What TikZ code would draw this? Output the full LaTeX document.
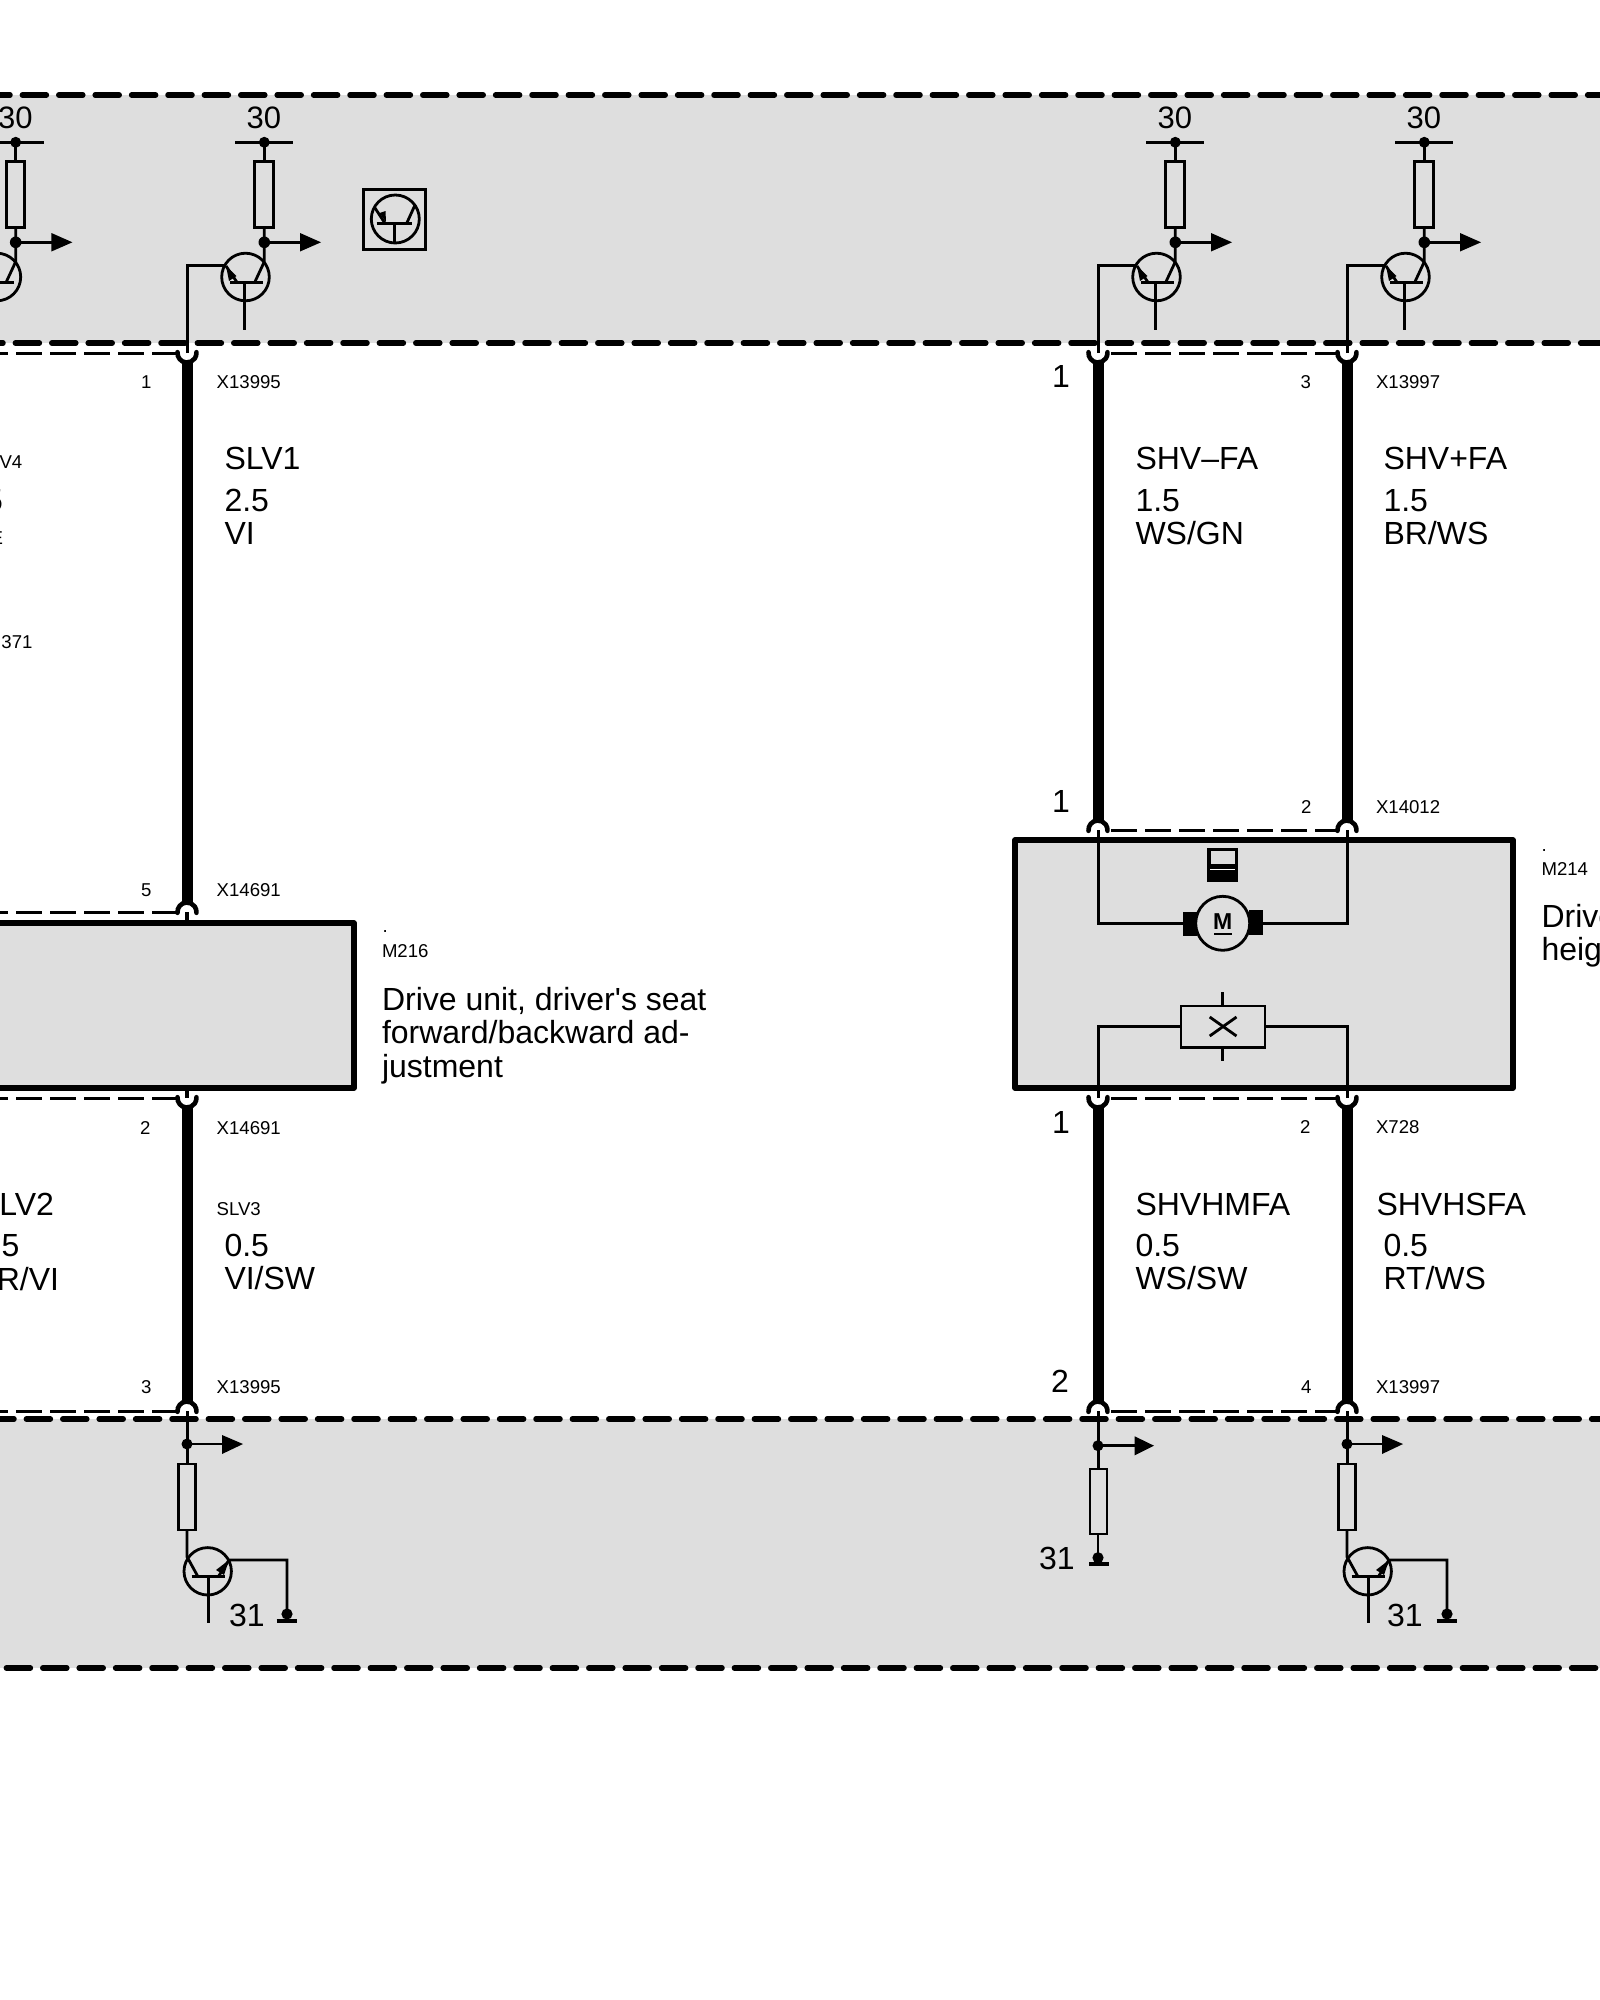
\documentclass[tikz,border=0pt]{standalone}
\usepackage{fontspec}
\setmainfont{Liberation Sans}
\usetikzlibrary{calc}
\definecolor{bandgrey}{HTML}{DEDEDE}
\tikzset{
  every node/.style={inner sep=0pt,outer sep=0pt},
  big/.style={anchor=base west,font=\fontsize{32}{32}\selectfont},
  small/.style={anchor=base west,font=\fontsize{18.6}{18.6}\selectfont},
  bigE/.style={anchor=base east,font=\fontsize{32}{32}\selectfont},
  smallE/.style={anchor=base east,font=\fontsize{18.6}{18.6}\selectfont},
  thin wire/.style={draw=black,line width=3pt,line join=miter},
  fine/.style={draw=black,line width=2.8pt},
  harness/.style={draw=black,line width=11pt},
  socket/.style={draw=black,line width=4.6pt,line cap=round},
  bandline/.style={draw=black,line width=5.5pt,line cap=round,dash pattern=on 24pt off 12.4pt},
  screen/.style={draw=black,line width=3pt,dash pattern=on 26pt off 8pt},
  module/.style={draw=black,fill=bandgrey,line width=5.5pt,line join=round},
}
% upper socket (cap) and lower socket (cup)
\newcommand{\capat}[1]{\draw[socket] ($(#1)+(-9.5,0.8)$) arc[start angle=185,end angle=-5,radius=9.5pt];}
\newcommand{\cupat}[1]{\draw[socket] ($(#1)+(-9.5,-0.8)$) arc[start angle=175,end angle=365,radius=9.5pt];}
% high-side driver in the top band, origin on the wire axis
\newcommand{\topdriver}[2]{%
\begin{scope}[shift={(#1,0)}]
  \node[big,font=\fontsize{31}{31}\selectfont] (thirty#2) at (59.7,128) {30};
  \draw[fine] (48,142.3) -- (106,142.3);
  \fill (77.3,142.3) circle (5.5pt);
  \draw[fine] (77.3,142.3) -- (77.3,161.7);
  \draw[fine] (67.7,161.7) rectangle (86.3,227.3);
  \draw[fine] (77.3,227.3) -- (77.3,261.7) -- (68,281.7);
  \fill (77.3,242.3) circle (5.8pt);
  \draw[fine] (77.3,242.3) -- (114,242.3);
  \fill (113,233) -- (134,242.3) -- (113,251.5) -- cycle;
  \draw[fine] (58.5,277) circle (23.8pt);
  \draw[fine] (43,282.3) -- (75.7,282.3);
  \draw[fine] (57.7,282.3) -- (57.7,330);
  \draw[fine] (50,282.3) -- (39,266);
  \fill (39,266) -- (49.5,276) -- (42,281) -- cycle;
\end{scope}}
% low-side driver in the bottom band, origin on the wire axis
\newcommand{\botdriver}[3]{%
\begin{scope}[shift={(#1,0)}]
  \fill (0,1444) circle (5.5pt);
  \draw[fine] (0,1444) -- (36,1444);
  \fill (35,1435) -- (56,1444) -- (35,1454) -- cycle;
  \draw[fine] (-8.5,1464) rectangle (8.5,1530);
  \draw[fine] (0,1530) -- (0,1556.7) -- (11,1576.7);
  \draw[fine] (20.7,1571.3) circle (23.7pt);
  \draw[fine] (4.7,1576.7) -- (38,1576.7);
  \draw[fine] (21.3,1576.7) -- (21.3,1622.7);
  \draw[fine] (31.3,1576.7) -- (42,1560) -- (100,1560) -- (100,1614);
  \fill (42,1560) -- (37,1575) -- (29,1570) -- cycle;
  \fill (100,1614) circle (5.6pt);
  \draw[fine,line width=3.4pt] (89.5,1621) -- (110,1621);
  \node[big] (thirtyone#2) at (#3,1626) {31};
\end{scope}}
\begin{document}
\begin{tikzpicture}[x=1pt,y=-1pt]
\useasboundingbox (0,0) rectangle (1600,2000);
\clip (0,0) rectangle (1600,2000);
\fill[white] (0,0) rectangle (1600,2000);
% bands
\fill[bandgrey] (0,95) rectangle (1600,343);
\fill[bandgrey] (0,1419) rectangle (1600,1668);
\draw[bandline,dash phase=14] (0,95) -- (1600,95);
\draw[bandline,dash phase=21] (0,343) -- (1600,343);
\draw[bandline,dash phase=10] (0,1419) -- (1600,1419);
\draw[bandline,dash phase=30] (0,1668) -- (1600,1668);

% terminals
\coordinate (aT) at (187,353);
\coordinate (aM) at (187,912);
\coordinate (aN) at (187,1098);
\coordinate (aB) at (187,1411);
\coordinate (bT) at (1098,353);
\coordinate (bM) at (1098,830);
\coordinate (bN) at (1098,1098);
\coordinate (bB) at (1098,1411);
\coordinate (cT) at (1347,353);
\coordinate (cM) at (1347,830);
\coordinate (cN) at (1347,1098);
\coordinate (cB) at (1347,1411);

% modules
\draw[module] (-20,923) rectangle (354,1088);
\draw[module] (1015,840) rectangle (1513,1088);

% thick harness wires
\foreach \p/\q in {aT/aM,aN/aB,bT/bM,bN/bB,cT/cM,cN/cB}
  {\draw[harness] ($(\p)+(0,9)$) -- ($(\q)+(0,-9)$);}
\foreach \p in {aM,aB,bM,bB,cM,cB} {\capat{\p}}
\foreach \p in {aT,aN,bT,bN,cT,cN} {\cupat{\p}}

% shield dashes
\foreach \p in {aT,aM,aN,aB}
  {\draw[screen,dash phase=18] (0,0 |- \p) -- ($(\p)+(-11,0)$);}
\draw[screen] (1111,353) -- (1336,353);
\draw[screen] (1111,830) -- (1336,830);
\draw[screen] (1111,1098) -- (1336,1098);
\draw[screen] (1111,1411) -- (1336,1411);

% stubs in module 1
\draw[thin wire,line width=4pt] (aM) -- (187,923);
\draw[thin wire,line width=4pt] (187,1088) -- (aN);

% drivers, top band
\topdriver{-61.6}{a}
\topdriver{187}{b}
\topdriver{1098}{c}
\topdriver{1347}{d}
\foreach \p in {aT,bT,cT}
  {\draw[thin wire] (\p) -- (\p |- 0,265.7) -- ($(\p |- 0,265.7)+(39,0)$);}

% drivers, bottom band
\botdriver{187}{a}{42}
\botdriver{1347}{c}{40}
\foreach \p in {aB,cB}
  {\draw[thin wire] (\p) -- (\p |- 0,1464);}
% passive branch
\draw[thin wire] (bB) -- (1098,1469);
\fill (1098,1445.7) circle (5.5pt);
\draw[fine] (1098,1445.7) -- (1136,1445.7);
\fill (1134.7,1436.3) -- (1154,1445.7) -- (1134.7,1455.3) -- cycle;
\draw[fine] (1090,1469) rectangle (1107,1534);
\draw[fine] (1098,1534) -- (1098,1557.7);
\fill (1098,1557.7) circle (5.6pt);
\draw[fine,line width=3.4pt] (1089,1564) -- (1109,1564);
\node[big] (thirtyonePassive) at (1039,1569) {31};

% transistor pictogram
\draw[fine] (363.3,189.3) rectangle (425.7,249.3);
\draw[fine] (395.3,219) circle (24pt);
\draw[fine] (376.7,223.3) -- (412.3,223.3);
\draw[fine] (394.7,223.3) -- (394.7,243);
\draw[fine] (406.7,223.3) -- (415,205);
\draw[fine] (385,223.3) -- (375,208);
\fill (386,222) -- (379.5,213) -- (385.5,211) -- cycle;

% motor
\draw[thin wire] (bM) -- (1098,923.3) -- (1183,923.3);
\draw[thin wire] (cM) -- (1347,923.3) -- (1263,923.3);
\fill (1182.5,912) rectangle (1197,936);
\fill (1248.5,910) rectangle (1263,935);
\draw[fine,fill=bandgrey] (1222.7,923.3) circle (27pt);
\node[font=\fontsize{23}{23}\selectfont\bfseries,anchor=base] (motorM) at (1222.7,929) {M};
\draw[line width=2pt] (1214,934) -- (1231.5,934);
% position icon
\fill (1207.4,848) rectangle (1238,882);
\fill[bandgrey] (1210.5,850.7) rectangle (1234.7,864.3);
\draw[white,line width=1.1pt] (1210,869.3) -- (1235,869.3);
% hall sensor
\draw[fine] (1181,1006) rectangle (1265,1047.7);
\draw[line width=2.8pt] (1209.7,1017) -- (1236.5,1036);
\draw[line width=2.8pt] (1209.7,1036) -- (1236.5,1017);
\draw[fine] (1222.7,992) -- (1222.7,1006);
\draw[fine] (1222.7,1047.7) -- (1222.7,1061);
\draw[thin wire] (bN) -- (1098,1026.7) -- (1181,1026.7);
\draw[thin wire] (cN) -- (1347,1026.7) -- (1265,1026.7);

% left, partly cut labels
\node[smallE] (lSLV4) at (22.3,468) {V4};
\node[bigE] (lSize) at (3,511.7) {5};
\node[smallE] (lColor) at (3,544) {E};
\node[smallE] (lX) at (32.5,648) {371};
\node[bigE] (lLV2) at (54,1215) {LV2};
\node[bigE] (lP5) at (19.5,1256.7) {5};
\node[bigE] (lRVI) at (59,1290) {R/VI};

% wire a labels
\node[small] (p1) at (141,388) {1};
\node[small] (xa1) at (216.7,388) {X13995};
\node[big] (slv1) at (224.5,469.7) {SLV1};
\node[big] (slv1s) at (224.5,511.7) {2.5};
\node[big] (slv1c) at (224.5,544.3) {VI};
\node[small] (p5) at (141,896) {5};
\node[small] (xa2) at (216.7,896) {X14691};
\node[small] (p2) at (140,1134) {2};
\node[small] (xa3) at (216.7,1134) {X14691};
\node[small] (slv3) at (216.7,1215) {SLV3};
\node[big] (slv3s) at (224.5,1256.7) {0.5};
\node[big] (slv3c) at (224.5,1289.5) {VI/SW};
\node[small] (p3) at (141,1393.5) {3};
\node[small] (xa4) at (216.7,1393.5) {X13995};

% module 1 labels
\node[small] (dot1) at (382.5,932) {.};
\node[small] (m216) at (382,957.3) {M216};
\node[big] (d1a) at (382,1010.5) {Drive unit, driver\textquotesingle s seat};
\node[big] (d1b) at (382,1043.6) {forward/backward ad-};
\node[big] (d1c) at (382,1077.5) {justment};

% wire b, c labels
\node[big] (b1) at (1052,387) {1};
\node[small] (c3) at (1300.5,388) {3};
\node[small] (xc1) at (1376,388) {X13997};
\node[big] (shvm) at (1135.5,469.7) {SHV–FA};
\node[big] (shvms) at (1135.5,511.7) {1.5};
\node[big] (shvmc) at (1135.5,544.3) {WS/GN};
\node[big] (shvp) at (1383.5,469.7) {SHV+FA};
\node[big] (shvps) at (1383.5,511.7) {1.5};
\node[big] (shvpc) at (1383.5,544.3) {BR/WS};
\node[big] (b1m) at (1052,812) {1};
\node[small] (c2m) at (1301,813) {2};
\node[small] (xc2) at (1376,813) {X14012};
\node[big] (b1n) at (1052,1133) {1};
\node[small] (c2n) at (1300,1133) {2};
\node[small] (xc3) at (1376,1133.5) {X728};
\node[big] (shvh) at (1135.5,1215) {SHVHMFA};
\node[big] (shvhs) at (1135.5,1256.7) {0.5};
\node[big] (shvhc) at (1135.5,1289.5) {WS/SW};
\node[big] (shvs) at (1376.5,1215) {SHVHSFA};
\node[big] (shvss) at (1383.5,1256.7) {0.5};
\node[big] (shvsc) at (1383.5,1289.5) {RT/WS};
\node[big] (b2) at (1051,1392) {2};
\node[small] (c4) at (1301,1393.5) {4};
\node[small] (xc4) at (1376,1393.5) {X13997};

% module 2 labels
\node[small] (dot2) at (1541.5,851) {.};
\node[small] (m214) at (1541.5,875) {M214};
\node[big] (d2a) at (1541.5,927) {Drive};
\node[big] (d2b) at (1541.5,960) {heig};
\end{tikzpicture}
\end{document}
